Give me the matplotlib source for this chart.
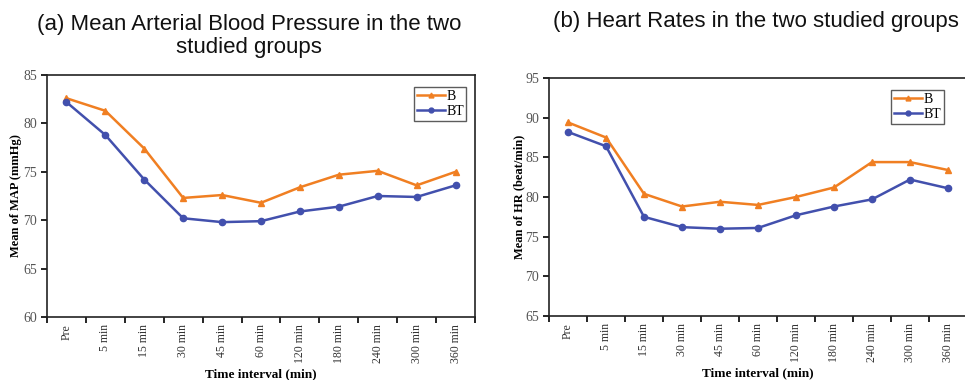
import matplotlib.pyplot as plt
import numpy as np
from matplotlib.lines import Line2D

# Time points
time_labels = ["Pre", "5 min", "15 min", "30 min", "45 min", "60 min",
               "120 min", "180 min", "240 min", "300 min", "360 min"]

# (a) Mean arterial pressure (mmHg)
map_b = [82.6, 81.3, 77.4, 72.3, 72.6, 71.8, 73.4, 74.7, 75.1, 73.6, 75.0]
map_bt = [82.2, 78.8, 74.2, 70.2, 69.8, 69.9, 70.9, 71.4, 72.5, 72.4, 73.6]

# (b) Heart rate (beat/min)
hr_b = [89.4, 87.5, 80.4, 78.8, 79.4, 79.0, 80.0, 81.2, 84.4, 84.4, 83.4]
hr_bt = [88.2, 86.4, 77.5, 76.2, 76.0, 76.1, 77.7, 78.8, 79.7, 82.2, 81.1]

color_b = "#f07f22"
color_bt = "#4250ad"
serif = ["Liberation Serif", "DejaVu Serif"]
sans = ["Liberation Sans", "DejaVu Sans"]

fig = plt.figure(figsize=(9.65, 3.8), dpi=100)
W, H = 965, 380


def make_axes(x0, x1, y_top, y_bot):
    return fig.add_axes([x0 / W, 1 - y_bot / H, (x1 - x0) / W, (y_bot - y_top) / H])


def draw_panel(ax, b, bt, ylim, yticks, ylabel):
    x = np.arange(len(time_labels))
    ax.plot(x, b, color=color_b, lw=1.8, marker="^", ms=4.5, label="B")
    ax.plot(x, bt, color=color_bt, lw=1.8, marker="o", ms=4.5, label="BT")
    ax.set_xlim(-0.5, len(time_labels) - 0.5)
    ax.set_ylim(*ylim)
    ax.set_yticks(yticks)
    ax.set_yticklabels([str(v) for v in yticks], family=serif, fontsize=10,
                       color="#555555")
    # category labels centred, tick marks at the boundaries
    ax.set_xticks(x)
    ax.set_xticklabels(time_labels, rotation=90, family=serif, fontsize=8.5,
                       color="#333333")
    ax.tick_params(axis="x", which="major", length=0, pad=5)
    ax.set_xticks(np.arange(-0.5, len(time_labels), 1.0), minor=True)
    ax.tick_params(axis="x", which="minor", length=4, width=1.2, direction="out")
    ax.tick_params(axis="y", length=4, width=1.2, direction="out", pad=3)
    for s in ax.spines.values():
        s.set_linewidth(1.2)
        s.set_color("#222222")
    ax.set_xlabel("Time interval (min)", family=serif, fontweight="bold",
                  fontsize=9.5, labelpad=3.5)
    ax.set_ylabel(ylabel, family=serif, fontweight="bold", fontsize=9)
    handles = [
        Line2D([], [], color=color_b, lw=1.8, marker="^", ms=3.5),
        Line2D([], [], color=color_bt, lw=1.8, marker="o", ms=3.5),
    ]
    leg = ax.legend(handles, ["B", "BT"], loc="upper right",
                    bbox_to_anchor=(0.98, 0.95), prop={"family": serif, "size": 10},
                    frameon=True, fancybox=False, handlelength=2.0,
                    handletextpad=0.1, borderpad=0.2, labelspacing=0.15,
                    borderaxespad=0)
    leg.get_frame().set_edgecolor("#333333")
    leg.get_frame().set_linewidth(1.0)


ax1 = make_axes(47, 475, 75, 317)
draw_panel(ax1, map_b, map_bt, (60, 85), [60, 65, 70, 75, 80, 85],
           "Mean of MAP (mmHg)")
ax1.yaxis.set_label_coords(-0.058, 0.5)

ax2 = make_axes(549, 967, 78, 316)
draw_panel(ax2, hr_b, hr_bt, (65, 95), [65, 70, 75, 80, 85, 90, 95],
           "Mean of HR (beat/min)")
ax2.legend_.set_bbox_to_anchor((0.944, 0.95))
ax2.yaxis.set_label_coords(-0.057, 0.5)

fig.text(249 / W, 1 - 36 / H, "(a) Mean Arterial Blood Pressure in the two\nstudied groups",
         ha="center", va="center", family=sans, fontsize=16, linespacing=1.1,
         color="#111111")
fig.text(756 / W, 1 - 22 / H, "(b) Heart Rates in the two studied groups",
         ha="center", va="center", family=sans, fontsize=16, color="#111111")

fig.savefig("out.png", dpi=100)
